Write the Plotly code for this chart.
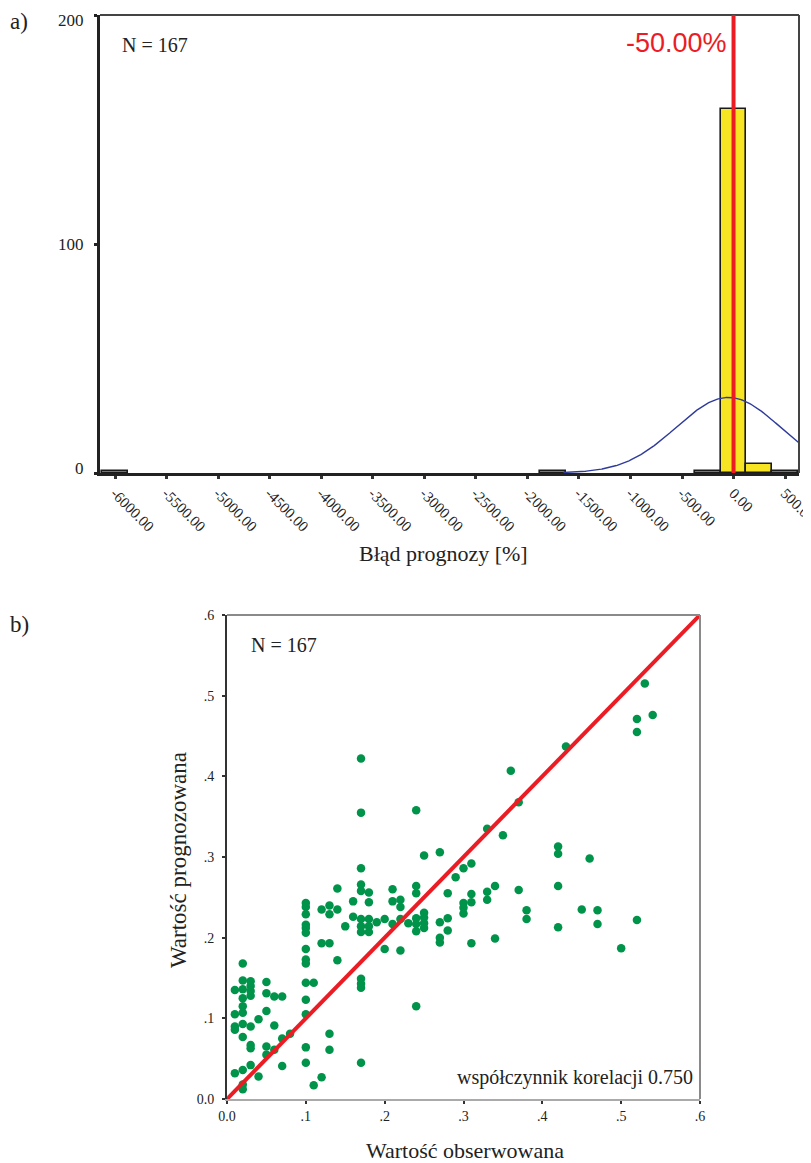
import numpy as np
import plotly.graph_objects as go

# page is 811x1163; the browser body has an 8px margin, so the figure is 8px smaller
PAGE_OFF = 8
W, H = 811 - PAGE_OFF, 1163 - PAGE_OFF

# ---------------- a) histogram data ----------------
bin_centers = [-6000, -1750, -250, 0, 250, 500]
bin_counts = [1, 1, 1, 159, 4, 1]
bin_width = 250
n_total = 167
curve_mean = -50.0
curve_sd = 505.0
hist_tick_vals = [-6000, -5500, -5000, -4500, -4000, -3500, -3000, -2500,
                  -2000, -1500, -1000, -500, 0, 500]
hist_tick_text = ["-6000.00", "-5500.00", "-5000.00", "-4500.00", "-4000.00",
                  "-3500.00", "-3000.00", "-2500.00", "-2000.00", "-1500.00",
                  "-1000.00", "-500.00", "0.00", "500.00"]
hist_y_ticks = [0, 100, 200]
hist_y_labels = ["0", "100", "200"]
ref_line_x = 0
ref_line_label = "-50.00%"

# ---------------- b) scatter data ----------------
observed = (
    [0.01] * 5 + [0.02] * 11 + [0.03] * 8 + [0.04] * 2 + [0.05] * 5 + [0.06] * 3 +
    [0.07] * 3 + [0.08] * 1 + [0.10] * 14 + [0.11] * 2 + [0.12] * 3 + [0.13] * 5 +
    [0.14] * 3 + [0.15] * 1 + [0.16] * 2 + [0.17] * 12 + [0.18] * 5 + [0.19] * 1 +
    [0.20] * 2 + [0.21] * 3 + [0.22] * 4 + [0.23] * 1 + [0.24] * 7 + [0.25] * 5 +
    [0.27] * 4 + [0.28] * 3 + [0.29] * 1 + [0.30] * 4 + [0.31] * 4 + [0.33] * 3 +
    [0.34] * 2 + [0.35] * 1 + [0.36] * 1 + [0.37] * 2 + [0.38] * 2 + [0.42] * 4 +
    [0.43] * 1 + [0.45] * 1 + [0.46] * 1 + [0.47] * 2 + [0.50] * 1 + [0.52] * 3 +
    [0.53] * 1 + [0.54] * 1
)
predicted = [
    0.135, 0.105, 0.090, 0.086, 0.032,
    0.168, 0.147, 0.136, 0.125, 0.115, 0.107, 0.093, 0.077, 0.036, 0.018, 0.012,
    0.146, 0.140, 0.134, 0.128, 0.090, 0.067, 0.063, 0.042,
    0.099, 0.028,
    0.145, 0.131, 0.109, 0.065, 0.055,
    0.127, 0.091, 0.061,
    0.127, 0.075, 0.041,
    0.081,
    0.243, 0.238, 0.229, 0.216, 0.212, 0.206, 0.186, 0.173, 0.168, 0.144, 0.123, 0.105, 0.064, 0.045,
    0.144, 0.017,
    0.235, 0.193, 0.027,
    0.240, 0.229, 0.193, 0.081, 0.061,
    0.261, 0.235, 0.172,
    0.214,
    0.245, 0.226,
    0.422, 0.355, 0.286, 0.266, 0.258, 0.223, 0.214, 0.207, 0.149, 0.143, 0.138, 0.045,
    0.256, 0.244, 0.223, 0.214, 0.207,
    0.219,
    0.223, 0.186,
    0.260, 0.245, 0.217,
    0.247, 0.238, 0.223, 0.184,
    0.218,
    0.358, 0.264, 0.255, 0.224, 0.217, 0.208, 0.115,
    0.302, 0.231, 0.225, 0.218, 0.212,
    0.306, 0.219, 0.200, 0.194,
    0.255, 0.224, 0.209,
    0.275,
    0.286, 0.243, 0.237, 0.230,
    0.292, 0.254, 0.244, 0.193,
    0.335, 0.257, 0.247,
    0.264, 0.199,
    0.327,
    0.407,
    0.368, 0.259,
    0.234, 0.223,
    0.313, 0.304, 0.264, 0.213,
    0.437,
    0.235,
    0.298,
    0.234, 0.217,
    0.187,
    0.471, 0.455, 0.222,
    0.515,
    0.476,
]
scatter_ticks = [0.0, 0.1, 0.2, 0.3, 0.4, 0.5, 0.6]
scatter_tick_text = ["0.0", ".1", ".2", ".3", ".4", ".5", ".6"]
corr_text = "współczynnik korelacji 0.750"

SERIF = "Liberation Serif"
GREEN = "#00934a"
RED = "#ec1c24"


def px_x(p):
    return (p - PAGE_OFF) / W


def px_y(p):
    return 1 - (p - PAGE_OFF) / H


fig = go.Figure()

# histogram bars
fig.add_trace(go.Bar(
    x=bin_centers, y=bin_counts, width=bin_width,
    marker=dict(color="#f7e423", line=dict(color="#1a1a1a", width=1.6)),
    xaxis="x", yaxis="y", showlegend=False,
))

# fitted normal curve
cx = np.linspace(-1650, 640, 300)
cy = n_total * bin_width / (curve_sd * np.sqrt(2 * np.pi)) * np.exp(-0.5 * ((cx - curve_mean) / curve_sd) ** 2)
fig.add_trace(go.Scatter(
    x=cx, y=cy, mode="lines", line=dict(color="#2e3b9c", width=1.4),
    xaxis="x", yaxis="y", showlegend=False, cliponaxis=True,
))

# scatter points
fig.add_trace(go.Scatter(
    x=observed, y=predicted, mode="markers",
    marker=dict(color=GREEN, size=8.5, line=dict(width=0)),
    xaxis="x2", yaxis="y2", showlegend=False,
))
# identity line
fig.add_trace(go.Scatter(
    x=[0, 0.6], y=[0, 0.6], mode="lines", line=dict(color=RED, width=4),
    xaxis="x2", yaxis="y2", showlegend=False,
))

fig.update_layout(
    width=W, height=H,
    margin=dict(l=0, r=0, t=0, b=0, autoexpand=False),
    paper_bgcolor="white", plot_bgcolor="white",
    bargap=0,
    xaxis=dict(
        domain=[px_x(100), px_x(799)], range=[-6146, 635],
        tickvals=hist_tick_vals, ticktext=hist_tick_text, tickangle=45,
        ticks="outside", ticklen=3, tickwidth=3, tickcolor="#333",
        showgrid=False, zeroline=False, showline=True, linecolor="#222", linewidth=2.5,
        tickfont=dict(family=SERIF, size=15, color="#222"), anchor="y",
        ticklabeloverflow="allow", automargin=False,
    ),
    yaxis=dict(
        domain=[px_y(473), px_y(15)], range=[0, 200],
        tickvals=hist_y_ticks, ticks="outside", ticklen=3, tickwidth=3, tickcolor="#222",
        showticklabels=False,
        showgrid=False, zeroline=False, showline=True, linecolor="#222", linewidth=2.5,
        anchor="x", automargin=False,
    ),
    xaxis2=dict(
        domain=[px_x(227), px_x(700)], range=[0, 0.6],
        tickvals=scatter_ticks, ticktext=scatter_tick_text,
        ticks="outside", ticklen=3, tickwidth=2, tickcolor="#333",
        showgrid=False, zeroline=False, showline=True, linecolor="#aaa", linewidth=1.5,
        tickfont=dict(family=SERIF, size=14, color="#222"), anchor="y2",
        automargin=False, ticklabeloverflow="allow",
    ),
    yaxis2=dict(
        domain=[px_y(1099), px_y(615)], range=[0, 0.6],
        tickvals=scatter_ticks, ticktext=scatter_tick_text,
        ticks="outside", ticklen=3, tickwidth=2, tickcolor="#333",
        showgrid=False, zeroline=False, showline=True, linecolor="#333", linewidth=2,
        tickfont=dict(family=SERIF, size=14, color="#222"), anchor="x2",
        ticklabelstandoff=5, automargin=False, ticklabeloverflow="allow",
    ),
)

shapes = [
    # histogram top / right border
    dict(type="line", xref="paper", yref="paper", x0=px_x(100), x1=px_x(799),
         y0=px_y(15), y1=px_y(15), line=dict(color="#444", width=2)),
    dict(type="line", xref="paper", yref="paper", x0=px_x(799), x1=px_x(799),
         y0=px_y(15), y1=px_y(473), line=dict(color="#444", width=2)),
    # red reference line
    dict(type="line", xref="x", yref="y domain", x0=ref_line_x, x1=ref_line_x,
         y0=0, y1=1, line=dict(color=RED, width=4), layer="above"),
    # scatter top / right border
    dict(type="line", xref="paper", yref="paper", x0=px_x(227), x1=px_x(700),
         y0=px_y(615), y1=px_y(615), line=dict(color="#8a8a8a", width=2)),
    dict(type="line", xref="paper", yref="paper", x0=px_x(700), x1=px_x(700),
         y0=px_y(615), y1=px_y(1099), line=dict(color="#8a8a8a", width=2)),
]
fig.update_layout(shapes=shapes)


def ann(text, x, y, size, xanchor="center", color="#222", family=SERIF, angle=0):
    return dict(text=text, x=px_x(x), y=px_y(y), xref="paper", yref="paper",
                xanchor=xanchor, yanchor="middle", showarrow=False, textangle=angle,
                font=dict(family=family, size=size, color=color))


annotations = [
    ann("a)", 8, 21, 23, xanchor="left"),
    ann("N = 167", 120, 45, 20, xanchor="left"),
    ann(ref_line_label, 729, 43, 27, xanchor="right", color=RED, family="Liberation Sans"),
    ann("Błąd prognozy [%]", 444, 553, 22),
    ann("b)", 8, 624, 23, xanchor="left"),
    ann("N = 167", 249, 645, 20, xanchor="left"),
    ann(corr_text, 695, 1077, 20, xanchor="right"),
    ann("Wartość prognozowana", 178, 860, 23, angle=-90),
    ann("Wartość obserwowana", 465, 1150, 22),
]
# histogram count labels, nudged inward at the ends like the original
label_shift = {0: 5, 100: 0, 200: -5}
for v, t in zip(hist_y_ticks, hist_y_labels):
    annotations.append(dict(
        text=t, x=px_x(86), xref="paper", y=v, yref="y", xanchor="right",
        yanchor="middle", yshift=label_shift[v], showarrow=False,
        font=dict(family=SERIF, size=17, color="#222"),
    ))
fig.update_layout(annotations=annotations)

fig.write_html("out.html")
